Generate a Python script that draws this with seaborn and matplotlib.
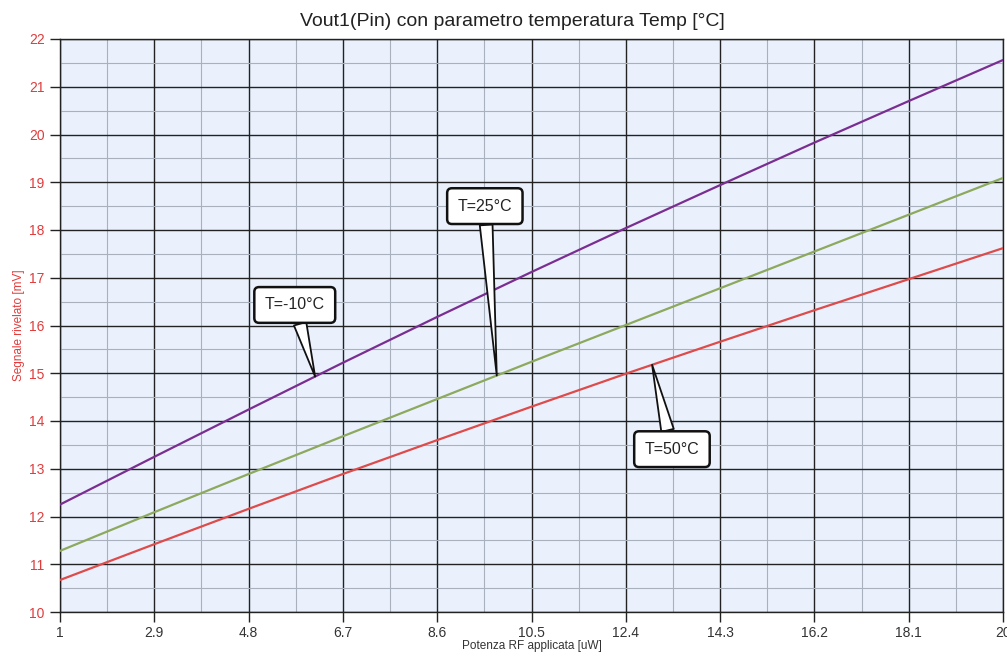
import numpy as np
import pandas as pd
import matplotlib
matplotlib.use("Agg")
import matplotlib.pyplot as plt
import seaborn as sns

# Data
pin = [1, 2.9, 4.8, 6.7, 8.6, 10.5, 12.4, 14.3, 16.2, 18.1, 20]
t_m10 = [12.25, 13.25, 14.24, 15.22, 16.18, 17.12, 18.04, 18.94, 19.83, 20.70, 21.56]
t_25 = [11.28, 12.09, 12.89, 13.68, 14.46, 15.24, 16.01, 16.78, 17.55, 18.32, 19.09]
t_50 = [10.67, 11.42, 12.16, 12.89, 13.60, 14.30, 14.99, 15.66, 16.32, 16.97, 17.62]
series_names = ["T=-10°C", "T=25°C", "T=50°C"]
x_ticks = [1, 2.9, 4.8, 6.7, 8.6, 10.5, 12.4, 14.3, 16.2, 18.1, 20]
x_tick_labels = ["1", "2.9", "4.8", "6.7", "8.6", "10.5", "12.4", "14.3", "16.2", "18.1", "20"]
y_ticks = list(range(10, 23))

df = pd.DataFrame({
    "Pin": pin * 3,
    "V": t_m10 + t_25 + t_50,
    "T": [series_names[0]] * len(pin) + [series_names[1]] * len(pin) + [series_names[2]] * len(pin),
})

sns.set_style("white")
plt.rcParams["font.family"] = ["Liberation Sans", "DejaVu Sans"]

fig = plt.figure(figsize=(10.07, 6.59), dpi=100)
ax = fig.add_axes([60 / 1007, 47 / 659, 943 / 1007, 573 / 659])
ax.set_facecolor("#EAF1FC")

palette = {series_names[0]: "#7A2E92", series_names[1]: "#8CA95E", series_names[2]: "#DE4B4B"}
sns.lineplot(data=df, x="Pin", y="V", hue="T", palette=palette, linewidth=1.6, ax=ax, legend=False, zorder=3)

ax.set_xlim(1, 20)
ax.set_ylim(10, 22)
ax.set_xticks(x_ticks)
ax.set_xticklabels(x_tick_labels)
ax.set_yticks(y_ticks)
minor_x = [(a + b) / 2 for a, b in zip(x_ticks[:-1], x_ticks[1:])]
ax.set_xticks(minor_x, minor=True)
ax.set_yticks([v + 0.5 for v in y_ticks[:-1]], minor=True)

ax.grid(which="major", color="#222222", linewidth=1.0, zorder=1)
ax.grid(which="minor", color="#A9B0BE", linewidth=0.8, zorder=0)
ax.set_axisbelow(True)

ax.tick_params(axis="both", which="major", bottom=True, left=True)
ax.tick_params(axis="y", which="major", colors="#222222", labelcolor="#E03C3C", labelsize=10, length=7, width=1, direction="out", pad=4)
ax.tick_params(axis="x", which="major", colors="#222222", labelcolor="#333333", labelsize=10, length=7, width=1, direction="out", pad=3)
ax.tick_params(which="minor", length=0)

for s in ["left", "bottom", "top", "right"]:
    ax.spines[s].set_color("#222222")
    ax.spines[s].set_linewidth(1.0)

ax.set_xlabel("Potenza RF applicata [uW]", fontsize=8.5, color="#333333", labelpad=0)
ax.set_ylabel("Segnale rivelato [mV]", fontsize=8.5, color="#E03C3C", labelpad=3)
ax.set_title("Vout1(Pin) con parametro temperatura Temp [°C]", fontsize=14, color="#222222", pad=9, x=0.48)

# Callouts
callouts = [
    (series_names[0], t_m10, 6.14, 5.73, 16.43),
    (series_names[1], t_25, 9.8, 9.56, 18.50),
    (series_names[2], t_50, 12.93, 13.33, 13.41),
]
for label, ys, xp, xt, yt in callouts:
    yp = float(np.interp(xp, pin, ys))
    ax.annotate(
        label, xy=(xp, yp), xytext=(xt, yt), fontsize=11.5, color="#222222",
        ha="center", va="center", zorder=5,
        bbox=dict(boxstyle="round,pad=0.65,rounding_size=0.3", fc="white", ec="#111111", lw=1.8),
        arrowprops=dict(arrowstyle="wedge,tail_width=0.8,shrink_factor=0.5", fc="white", ec="#111111", lw=1.3,
                        shrinkA=0, shrinkB=0),
    )

fig.savefig("out.png", dpi=100)
